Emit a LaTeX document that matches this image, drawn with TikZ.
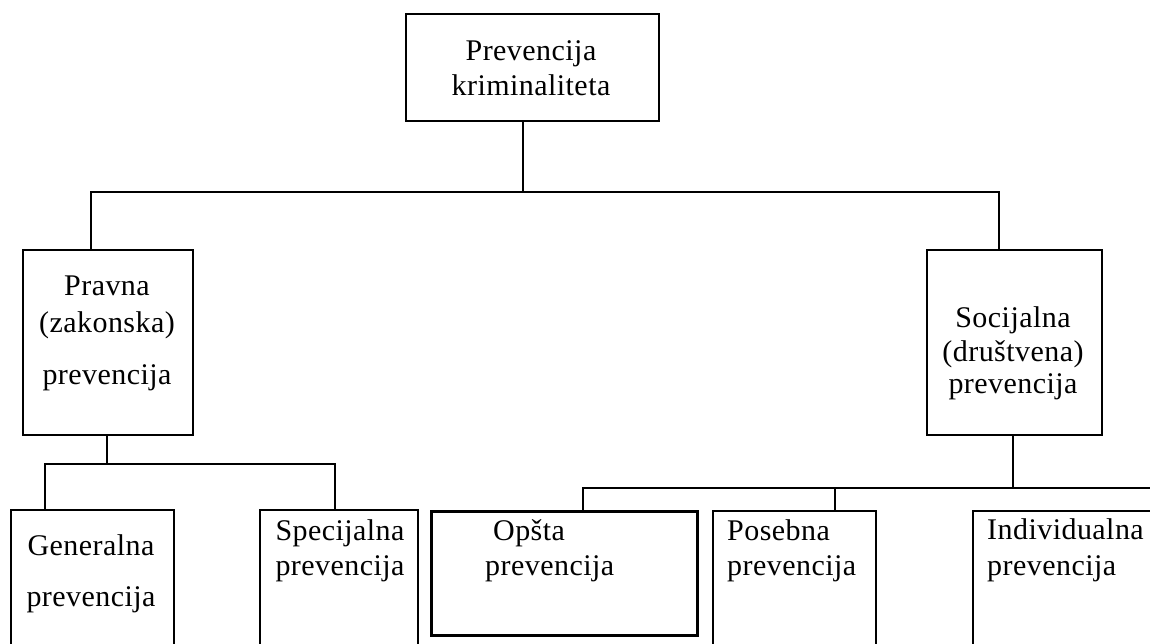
\documentclass[tikz,border=0pt]{standalone}
\usepackage{fontspec}
\setmainfont{Liberation Serif}[LetterSpace=1.5]
\begin{document}
\begin{tikzpicture}[x=1pt,y=-1pt,
  box/.style={draw, line width=1.8pt, inner sep=0pt, anchor=north west},
  conn/.style={draw, line width=1.8pt},
  lbl/.style={inner sep=0pt, anchor=base, font=\fontsize{30}{35}\selectfont},
  lblw/.style={inner sep=0pt, anchor=base west, font=\fontsize{30}{35}\selectfont}]
\useasboundingbox (0,0) rectangle (1150,643);
\clip (0,0) rectangle (1150,643);
% boxes
\node[box, minimum width=253pt, minimum height=107pt] (root) at (405,13) {};
\node[box, minimum width=170pt, minimum height=185pt] (pravna) at (22,249) {};
\node[box, minimum width=175pt, minimum height=185pt] (socijalna) at (926,249) {};
\node[box, minimum width=163pt, minimum height=160pt] (generalna) at (10,509) {};
\node[box, minimum width=158pt, minimum height=160pt] (specijalna) at (259,509) {};
\node[box, line width=2.6pt, minimum width=266pt, minimum height=124pt] (opsta) at (430,510) {};
\node[box, minimum width=163pt, minimum height=160pt] (posebna) at (712,510) {};
\node[box, minimum width=210pt, minimum height=160pt] (individualna) at (972,510) {};
% texts
\node[lbl] (t1) at (531,60) {Prevencija};
\node[lbl] (t2) at (531,95) {kriminaliteta};
\node[lbl] (t3) at (107,295) {Pravna};
\node[lbl] (t4) at (107,332) {(zakonska)};
\node[lbl] (t5) at (107,384) {prevencija};
\node[lbl] (t6) at (1013,327) {Socijalna};
\node[lbl] (t7) at (1013,361) {(društvena)};
\node[lbl] (t8) at (1013,393) {prevencija};
\node[lbl] (t9) at (91,555) {Generalna};
\node[lbl] (t10) at (91,606) {prevencija};
\node[lbl] (t11) at (340,540) {Specijalna};
\node[lbl] (t12) at (340,575) {prevencija};
\node[lblw] (t13) at (493,540) {Opšta};
\node[lblw] (t14) at (485,575) {prevencija};
\node[lblw] (t15) at (727,540) {Posebna};
\node[lblw] (t16) at (727,575) {prevencija};
\node[lblw] (t17) at (987,539) {Individualna};
\node[lblw] (t18) at (987,575) {prevencija};
% junctions
\coordinate (h0M) at (523,192);
\coordinate (h0L) at (91,192);
\coordinate (h0R) at (999,192);
\coordinate (h1M) at (107,464);
\coordinate (h1L) at (45,464);
\coordinate (h1R) at (335,464);
\coordinate (h2M) at (1013,488);
\coordinate (h2L) at (583,488);
\coordinate (h2C) at (835,488);
\coordinate (h2R) at (1160,488);
% connectors
\draw[conn] (root.south -| h0M) -- (h0M);
\draw[conn] (pravna.north -| h0L) -- (h0L) -- (h0R) -- (socijalna.north -| h0R);
\draw[conn] (pravna.south -| h1M) -- (h1M);
\draw[conn] (generalna.north -| h1L) -- (h1L) -- (h1R) -- (specijalna.north -| h1R);
\draw[conn] (socijalna.south -| h2M) -- (h2M);
\draw[conn] (opsta.north -| h2L) -- (h2L) -- (h2R) -- (individualna.north -| h2R);
\draw[conn] (h2C) -- (posebna.north -| h2C);
\end{tikzpicture}
\end{document}
